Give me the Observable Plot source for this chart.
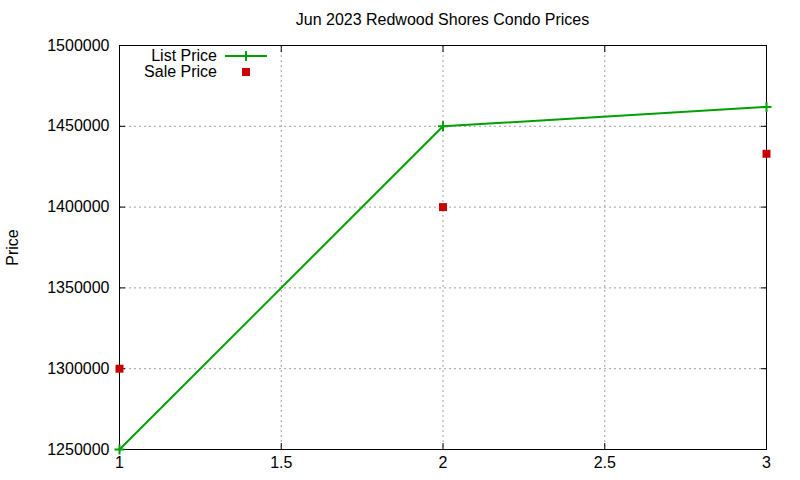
<!DOCTYPE html>
<html>
<head>
<meta charset="utf-8">
<script src="https://cdn.jsdelivr.net/npm/d3@7"></script>
<script src="https://cdn.jsdelivr.net/npm/@observablehq/plot@0.6"></script>
<style>
  html, body { margin: 0; padding: 0; background: white; }
  #wrap { position: relative; width: 800px; height: 480px; font-family: "Liberation Sans", Arial, sans-serif; font-size: 16px; color: #000; }
  #title { position: absolute; left: 119px; width: 647px; top: 11px; text-align: center; }
  #legend { position: absolute; left: 100px; top: 48px; }
  .item { display: flex; align-items: center; height: 16px; }
  .item span { width: 117px; text-align: right; padding-right: 8px; }
</style>
</head>
<body>
<div id="wrap">
  <div id="chart"></div>
  <div id="title"></div>
  <div id="legend"></div>
</div>
<script>
const titleText = "Jun 2023 Redwood Shores Condo Prices";
const yLabel = "Price";
const seriesNames = ["List Price", "Sale Price"];
const xs = [1, 2, 3];
const listPrice = [1250000, 1450000, 1462000];
const salePrice = [1300000, 1400000, 1433000];
const xTicks = [1, 1.5, 2, 2.5, 3];
const yTicks = [1250000, 1300000, 1350000, 1400000, 1450000, 1500000];

const green = "#00a000";
const red = "#cc0000";

const listData = xs.map((x, i) => ({x, y: listPrice[i]}));
const saleData = xs.map((x, i) => ({x, y: salePrice[i]}));

const cross = {
  draw(ctx, size) {
    const r = Math.sqrt(size / Math.PI);
    ctx.moveTo(-r, 0); ctx.lineTo(r, 0);
    ctx.moveTo(0, -r); ctx.lineTo(0, r);
  }
};

const gridStyle = {stroke: "#a0a0a0", strokeOpacity: 1, strokeWidth: 1, strokeDasharray: "2,3"};

const chart = Plot.plot({
  width: 800,
  height: 480,
  marginLeft: 119,
  marginRight: 34,
  marginTop: 45,
  marginBottom: 31,
  style: {fontFamily: "'Liberation Sans', Arial, sans-serif", fontSize: "16px", color: "black", background: "white"},
  x: {domain: [1, 3]},
  y: {domain: [1250000, 1500000]},
  marks: [
    Plot.gridX(xTicks, gridStyle),
    Plot.gridY(yTicks, gridStyle),
    Plot.frame({stroke: "black"}),
    Plot.axisX(xTicks, {anchor: "bottom", tickSize: -6, tickPadding: 13, label: null, tickFormat: d => String(d), fill: "black"}),
    Plot.axisX(xTicks, {anchor: "top", tickSize: -6, label: null, tickFormat: () => ""}),
    Plot.axisY(yTicks, {anchor: "left", tickSize: -6, tickPadding: 16, label: yLabel, labelAnchor: "center", labelArrow: "none", labelOffset: 113, tickFormat: d => String(d), fill: "black"}),
    Plot.axisY(yTicks, {anchor: "right", tickSize: -6, label: null, tickFormat: () => ""}),
    Plot.line(listData, {x: "x", y: "y", stroke: green, strokeWidth: 2}),
    Plot.dot(listData, {x: "x", y: "y", symbol: cross, r: 5, stroke: green, strokeWidth: 2, fill: "none"}),
    Plot.dot(saleData, {x: "x", y: "y", symbol: "square", r: 4.5, fill: red, stroke: "none"})
  ]
});
document.getElementById("chart").appendChild(chart);
document.getElementById("title").textContent = titleText;

const legend = document.getElementById("legend");
const swatches = [
  `<svg width="44" height="16"><line x1="0" y1="8" x2="42" y2="8" stroke="${green}" stroke-width="2"/><line x1="21" y1="3" x2="21" y2="13" stroke="${green}" stroke-width="2"/><line x1="16" y1="8" x2="26" y2="8" stroke="${green}" stroke-width="2"/></svg>`,
  `<svg width="44" height="16"><rect x="17" y="4" width="8" height="8" fill="${red}"/></svg>`
];
seriesNames.forEach((name, i) => {
  const d = document.createElement("div");
  d.className = "item";
  d.innerHTML = `<span>${name}</span>${swatches[i]}`;
  legend.appendChild(d);
});
</script>
</body>
</html>
